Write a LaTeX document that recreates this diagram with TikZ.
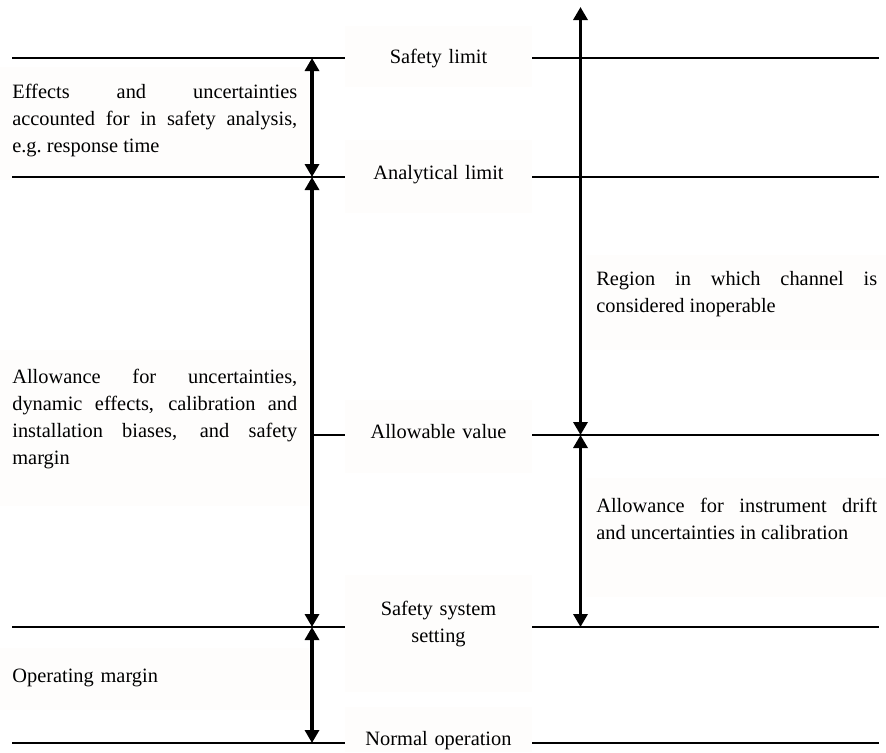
\documentclass[tikz,border=0pt]{standalone}
\usepackage{fontspec}
\setmainfont{Liberation Serif}
\usetikzlibrary{arrows.meta}
\definecolor{boxfill}{RGB}{254,253,252}
\newcommand{\lblfont}{\fontsize{11.6}{15.4}\selectfont}

\begin{document}
\begin{tikzpicture}[x=0.02cm,y=-0.02cm,
	limline/.style={line width=0.9pt},
	spanarrow/.style={line width=2.2pt,{Triangle[length=0.26cm,width=0.28cm]}-{Triangle[length=0.26cm,width=0.28cm]}},
	limbox/.style={fill=boxfill,inner sep=0pt,text width=3.74cm,align=center,anchor=base,font=\lblfont},
	notebox/.style={fill=boxfill,inner xsep=0.24cm,inner ysep=0pt,anchor=base west,align=justify,font=\lblfont}]

	\useasboundingbox (0,0) rectangle (886,752);

	\node[limbox,text height=0.74cm,text depth=0.48cm] (slim) at (438.5,63) {Safety limit};
	\node[limbox,text height=0.78cm,text depth=0.68cm] (alim) at (438.5,179) {Analytical limit};
	\node[limbox,text height=0.76cm,text depth=0.70cm] (aval) at (438.5,438) {Allowable value};
	\node[limbox,text height=0.80cm,text depth=1.54cm] (sset) at (438.5,615) {Safety system\\setting};
	\node[limbox,text height=0.76cm,text depth=0.14cm] (nop) at (438.5,745) {Normal operation};

	\node[notebox,text width=5.7cm,text height=0.62cm,text depth=1.64cm] (effects) at (0,98) {Effects and uncertainties\linebreak accounted for in safety analysis,\linebreak e.g.\ response time};
	\node[notebox,text width=5.7cm,text height=0.66cm,text depth=2.46cm] (allow) at (0,383) {Allowance for uncertainties,\linebreak dynamic effects, calibration and\linebreak installation biases, and safety\linebreak margin};
	\node[notebox,text width=5.7cm,text height=0.68cm,text depth=0.56cm,align=left] (opmargin) at (0,682) {Operating margin};
	\node[notebox,inner xsep=0.2cm,text width=5.62cm,text height=0.60cm,text depth=1.30cm] (region) at (586,285) {Region in which channel is\linebreak considered inoperable};
	\node[notebox,inner xsep=0.2cm,text width=5.62cm,text height=0.68cm,text depth=1.70cm] (drift) at (586,512) {Allowance for instrument drift\linebreak and uncertainties in calibration};

	\coordinate (sl-w) at (12,58);
	\coordinate (sl-e) at (879,58);
	\coordinate (al-w) at (12,177);
	\coordinate (al-e) at (879,177);
	\coordinate (av-w) at (312,435);
	\coordinate (av-e) at (879,435);
	\coordinate (ss-w) at (12,627);
	\coordinate (ss-e) at (879,627);
	\coordinate (no-w) at (12,743);
	\coordinate (no-e) at (879,743);

	\draw[limline] (sl-w) -- (slim.west |- sl-w);
	\draw[limline] (slim.east |- sl-e) -- (sl-e);
	\draw[limline] (al-w) -- (alim.west |- al-w);
	\draw[limline] (alim.east |- al-e) -- (al-e);
	\draw[limline] (av-w) -- (aval.west |- av-w);
	\draw[limline] (aval.east |- av-e) -- (av-e);
	\draw[limline] (ss-w) -- (sset.west |- ss-w);
	\draw[limline] (sset.east |- ss-e) -- (ss-e);
	\draw[limline] (no-w) -- (nop.west |- no-w);
	\draw[limline] (nop.east |- no-e) -- (no-e);

	\coordinate (l1) at (312,58);
	\coordinate (l2) at (312,177);
	\coordinate (l3) at (312,627);
	\coordinate (l4) at (312,743);
	\coordinate (r0) at (580.5,7);
	\coordinate (r1) at (580.5,435);
	\coordinate (r2) at (580.5,627);

	\draw[spanarrow] (l1) -- (l2);
	\draw[spanarrow] (l2) -- (l3);
	\draw[spanarrow] (l3) -- (l4);
	\draw[spanarrow] (r0) -- (r1);
	\draw[spanarrow] (r1) -- (r2);

\end{tikzpicture}
\end{document}
